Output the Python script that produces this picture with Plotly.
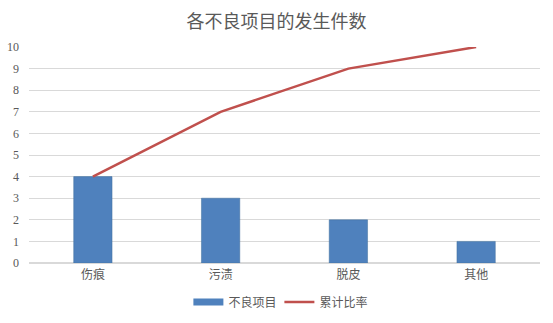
import plotly.graph_objects as go

categories = ["伤痕", "污渍", "脱皮", "其他"]
defects = [4, 3, 2, 1]
cumulative = [4, 7, 9, 10]

BAR_COLOR = "#4F81BD"
LINE_COLOR = "#C0504D"

fig = go.Figure()
fig.add_trace(go.Bar(
    x=categories, y=defects, name="不良项目",
    marker=dict(color=BAR_COLOR, line=dict(color="#41719C", width=0.5)),
    width=0.3, showlegend=False,
))
# wide flat swatch for the bar series in the legend
fig.add_trace(go.Scatter(
    x=[None], y=[None], name="不良项目", mode="lines",
    line=dict(color=BAR_COLOR, width=7),
))
fig.add_trace(go.Scatter(
    x=categories, y=cumulative, name="累计比率", mode="lines",
    line=dict(color=LINE_COLOR, width=2.5),
))

fig.update_layout(
    width=553, height=323,
    margin=dict(l=29, r=13, t=47, b=60, autoexpand=False),
    paper_bgcolor="white", plot_bgcolor="white",
    title=dict(text="各不良项目的发生件数", x=0.5, xanchor="center",
               y=1 - 22 / 323, yanchor="middle",
               font=dict(family="Noto Sans CJK SC", size=18, color="#595959")),
    xaxis=dict(showgrid=False, showline=False, ticks="", automargin=False,
               ticklabelstandoff=3,
               tickfont=dict(family="Noto Sans CJK SC", size=12, color="#595959")),
    yaxis=dict(range=[0, 10], dtick=1, gridcolor="#D9D9D9", gridwidth=1,
               zeroline=True, zerolinecolor="#D9D9D9", showline=False, automargin=False,
               ticklabelstandoff=9,
               tickfont=dict(family="Liberation Serif", size=12, color="#595959")),
    legend=dict(orientation="h", x=0.49, xanchor="center",
                yref="container", y=1 - 302 / 323, yanchor="middle",
                entrywidth=46, itemwidth=30,
                font=dict(family="Noto Sans CJK SC", size=12, color="#595959")),
    showlegend=True,
)

fig.write_html("out.html")
